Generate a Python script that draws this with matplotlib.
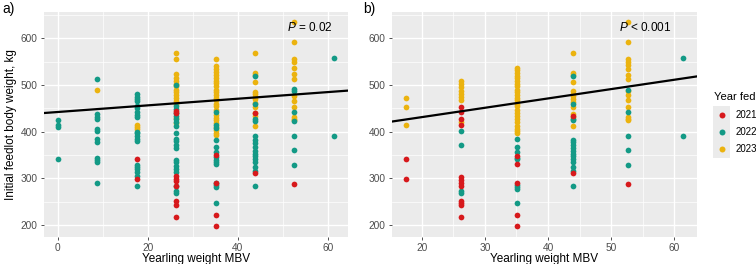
import matplotlib.pyplot as plt
from matplotlib.lines import Line2D
import numpy as np

plt.rcParams['font.family'] = ['Liberation Sans', 'DejaVu Sans']
plt.rcParams['mathtext.fontset'] = 'custom'
plt.rcParams['mathtext.it'] = 'Liberation Sans:italic'
plt.rcParams['mathtext.rm'] = 'Liberation Sans'

# cores por ano
anos = ['2021', '2022', '2023']
cores = {'2021': '#d7191c', '2022': '#139a86', '2023': '#ebb30f'}

# painel a) valores por MBV e ano
a_2021 = {17.5: [342, 298],
          26.3: [445, 440, 304, 299, 294, 283, 252, 243, 217],
          35.1: [350, 291, 222, 197],
          43.9: [439, 311],
          52.6: [287]}
a_2022 = {0: [425, 415, 410, 342],
          8.8: [512, 438, 432, 426, 406, 402, 385, 377, 344, 339, 335, 291],
          17.5: [480, 475, 470, 465, 455, 450, 441, 435, 431, 400, 396, 390, 385, 380, 329, 324, 319, 313, 304, 283],
          26.3: [500, 454, 448, 440, 433, 427, 421, 412, 398, 385, 379, 372, 366, 339, 334, 326, 319, 314, 283, 274, 269],
          35.1: [443, 414, 408, 383, 367, 356, 345, 340, 336, 331, 290, 285, 281, 247],
          43.9: [518, 460, 428, 422, 390, 383, 376, 368, 359, 353, 347, 341, 336, 325, 315, 283],
          52.6: [492, 487, 441, 423, 391, 360, 328],
          61.4: [558, 390]}
a_2023 = {8.8: [489],
          17.5: [415, 410, 406],
          26.3: [568, 556, 523, 514, 509, 502, 497, 490, 484, 478, 472, 466, 460, 430, 418],
          35.1: [556, 540, 534, 528, 521, 515, 509, 503, 497, 490, 484, 478, 472, 467, 460, 454, 447, 436, 430, 424, 418, 410, 404, 398, 392],
          43.9: [568, 526, 521, 507, 485, 480, 475, 470, 462, 452, 440, 434, 413],
          52.6: [634, 592, 555, 548, 536, 523, 513, 477, 466, 452, 432, 428, 424]}

# painel b) valores por MBV e ano
b_2021 = {17.5: [342, 299],
          26.3: [452, 443, 428, 415, 303, 296, 290, 283, 252, 247, 242, 217],
          35.1: [348, 331, 291, 222, 197],
          43.9: [434, 311],
          52.6: [287]}
b_2022 = {26.3: [401, 371, 272, 268],
          35.1: [384, 368, 356, 344, 341, 285, 281, 278, 247],
          43.9: [518, 460, 428, 424, 383, 378, 372, 365, 358, 352, 347, 342, 336, 325, 315, 283],
          52.6: [490, 441, 391, 360, 328],
          61.4: [558, 390]}
b_2023 = {17.5: [473, 453, 414],
          26.3: [509, 502, 495, 488, 481, 474, 467, 420],
          35.1: [536, 531, 526, 520, 515, 509, 502, 497, 490, 484, 478, 472, 467, 460, 454, 447, 440, 434, 427, 420, 411, 406, 401, 397],
          43.9: [568, 526, 521, 507, 486, 481, 476, 470, 464, 452, 437, 432, 412],
          52.6: [634, 592, 556, 549, 543, 535, 522, 513, 488, 478, 468, 452, 432, 428, 425]}

# retas de regressao (intercepto, inclinacao)
reta_a = (442, 0.71)
reta_b = (391, 2.0)
texto_a = r'$\it{P}$ = 0.02'
texto_b = r'$\it{P}$ < 0.001'


def pontos(d):
    xs, ys = [], []
    for k, v in d.items():
        xs += [k] * len(v)
        ys += v
    return np.array(xs), np.array(ys)


def painel(ax, grupos, reta, texto, xlim, xmaj, xmin, xtexto):
    ax.set_facecolor('#ebebeb')
    for ano, d in grupos:
        x, y = pontos(d)
        ax.scatter(x, y, s=17, color=cores[ano], linewidths=0, zorder=3)
    ax.axline((0, reta[0]), slope=reta[1], color='black', lw=1.6, zorder=4)
    ax.set_xlim(xlim)
    ax.set_ylim(174.5, 656)
    ax.set_xticks(xmaj)
    ax.set_xticks(xmin, minor=True)
    ax.set_yticks([200, 300, 400, 500, 600])
    ax.set_yticks([250, 350, 450, 550, 650], minor=True)
    ax.grid(True, which='major', color='white', lw=1.0, zorder=0)
    ax.grid(True, which='minor', color='white', lw=0.5, zorder=0)
    ax.set_axisbelow(True)
    for s in ax.spines.values():
        s.set_visible(False)
    ax.tick_params(which='major', length=2.5, width=0.6, color='#333333',
                   labelsize=7.3, labelcolor='#4d4d4d', pad=2)
    ax.tick_params(which='minor', length=0)
    ax.set_xlabel('Yearling weight MBV', fontsize=8.5, labelpad=0)
    ax.text(xtexto, 0.933, texto, transform=ax.transAxes, ha='right', va='center',
            fontsize=8.5, zorder=6)


fig = plt.figure(figsize=(7.56, 2.64), dpi=100)
ax1 = fig.add_axes([44 / 756, 1 - 237 / 264, 304 / 756, 225 / 264])
ax2 = fig.add_axes([392 / 756, 1 - 237 / 264, 305 / 756, 225 / 264])

painel(ax1, [('2023', a_2023), ('2022', a_2022), ('2021', a_2021)], reta_a, texto_a,
       (-3.07, 64.5), [0, 20, 40, 60], [10, 30, 50], 0.948)
painel(ax2, [('2023', b_2023), ('2022', b_2022), ('2021', b_2021)], reta_b, texto_b,
       (15.3, 63.6), [20, 30, 40, 50, 60], [25, 35, 45, 55], 0.915)
ax1.set_ylabel('Initial feedlot body weight, kg', fontsize=8.5, labelpad=3)

fig.text(2 / 756, 1 - 9 / 264, 'a)', fontsize=10, va='center')
fig.text(363 / 756, 1 - 9 / 264, 'b)', fontsize=10, va='center')

# legenda feita a mao
fig.text(714 / 756, 1 - 97 / 264, 'Year fed', fontsize=8, va='center', ha='left')
fig.patches.append(plt.Rectangle((713 / 756, 1 - 158 / 264), 17 / 756, 52 / 264,
                                 transform=fig.transFigure, facecolor='#ebebeb',
                                 edgecolor='none', zorder=0))
for i, ano in enumerate(anos):
    yy = 1 - (115 + 17 * i) / 264
    fig.add_artist(Line2D([722 / 756], [yy], marker='o', ms=4.3, color=cores[ano],
                          markeredgewidth=0, transform=fig.transFigure))
    fig.text(736 / 756, yy, ano, fontsize=7, va='center', ha='left')

fig.savefig('out.png', dpi=100)
